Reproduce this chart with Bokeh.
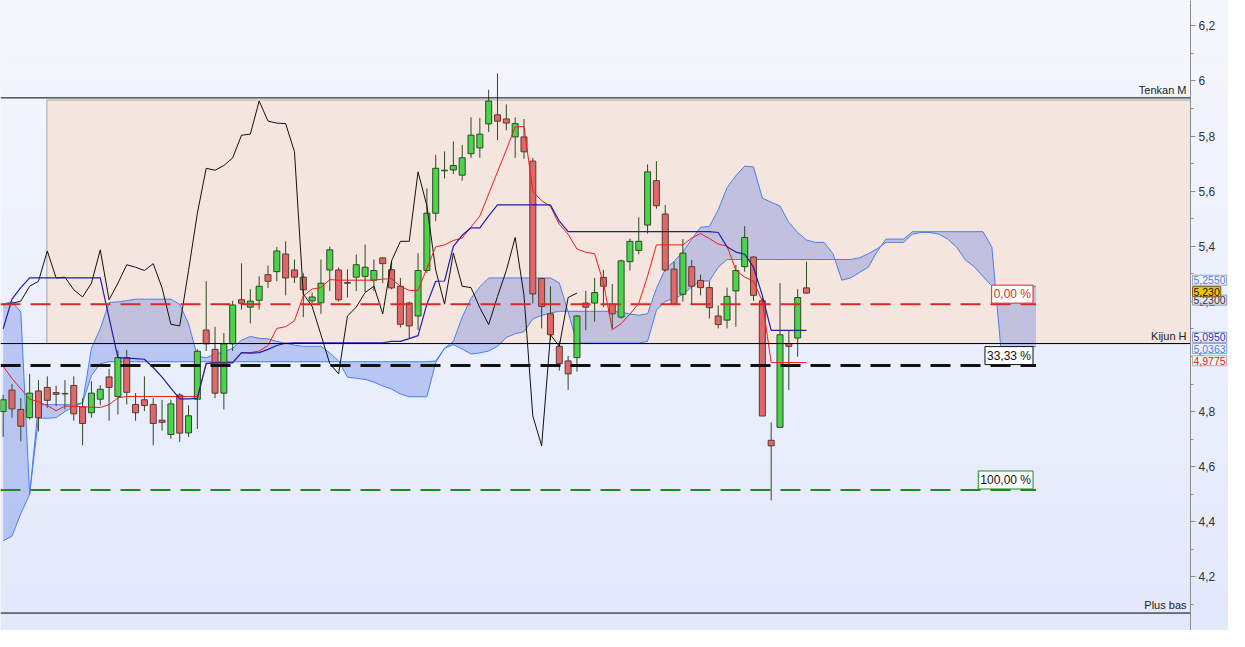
import numpy as np
from bokeh.plotting import figure
from bokeh.models import (BoxAnnotation, Label, FixedTicker, LinearAxis,
                          CustomJSTickFormatter, Range1d)
from bokeh.embed import file_html
from bokeh.resources import INLINE

# ---------------- data ----------------
opens = [4.800, 4.878, 4.808, 4.778, 4.875, 4.888, 4.869, 4.866, 4.895, 4.817,
         4.796, 4.845, 4.926, 4.855, 4.996, 4.826, 4.843, 4.826, 4.769, 4.717,
         4.860, 4.723, 4.845, 5.096, 5.026, 4.867, 5.046, 5.206, 5.179, 5.204,
         5.297, 5.308, 5.372, 5.314, 5.288, 5.202, 5.195, 5.314, 5.314, 5.268,
         5.288, 5.291, 5.277, 5.358, 5.315, 5.255, 5.194, 5.147, 5.312, 5.520,
         5.674, 5.677, 5.658, 5.736, 5.757, 5.844, 5.877, 5.862, 5.797, 5.797,
         5.709, 5.283, 5.155, 5.037, 4.984, 4.996, 5.194, 5.194, 5.287, 5.190,
         5.143, 5.344, 5.385, 5.477, 5.638, 5.517, 5.317, 5.226, 5.326, 5.276,
         5.250, 5.147, 5.132, 5.238, 5.326, 5.361, 5.202, 4.696, 4.743, 5.047,
         5.067, 5.249]
highs = [4.861, 4.900, 4.849, 4.937, 4.914, 4.928, 4.894, 4.914, 4.928, 4.849,
         4.910, 4.896, 4.955, 5.022, 5.024, 4.867, 4.928, 4.849, 4.843, 4.843,
         4.867, 4.823, 5.026, 5.273, 5.108, 5.085, 5.202, 5.338, 5.244, 5.291,
         5.330, 5.397, 5.418, 5.352, 5.302, 5.232, 5.352, 5.399, 5.323, 5.316,
         5.370, 5.406, 5.352, 5.360, 5.347, 5.285, 5.199, 5.375, 5.610, 5.732,
         5.744, 5.780, 5.768, 5.868, 5.866, 5.968, 6.027, 5.915, 5.868, 5.862,
         5.721, 5.285, 5.255, 5.055, 5.002, 5.150, 5.238, 5.285, 5.314, 5.263,
         5.352, 5.428, 5.505, 5.697, 5.709, 5.550, 5.344, 5.426, 5.350, 5.297,
         5.273, 5.185, 5.250, 5.332, 5.473, 5.364, 5.214, 4.761, 5.267, 5.096,
         5.244, 5.344]
lows = [4.708, 4.778, 4.692, 4.772, 4.728, 4.814, 4.820, 4.808, 4.767, 4.678,
        4.778, 4.823, 4.767, 4.790, 4.826, 4.767, 4.802, 4.678, 4.731, 4.702,
        4.690, 4.708, 4.737, 5.020, 4.849, 4.808, 5.020, 5.170, 5.120, 5.170,
        5.249, 5.273, 5.222, 5.267, 5.143, 5.191, 5.155, 5.238, 5.199, 5.214,
        5.238, 5.234, 5.238, 5.267, 5.244, 5.105, 5.067, 5.096, 5.303, 5.491,
        5.646, 5.662, 5.638, 5.721, 5.721, 5.815, 5.785, 5.821, 5.721, 5.718,
        5.193, 5.102, 5.060, 4.949, 4.879, 4.945, 5.096, 5.126, 5.179, 5.102,
        5.138, 5.312, 5.371, 5.446, 5.536, 5.308, 5.190, 5.199, 5.190, 5.222,
        5.138, 5.102, 5.102, 5.108, 5.308, 5.202, 4.784, 4.478, 4.743, 4.878,
        4.999, 5.228]
closes = [4.843, 4.810, 4.747, 4.867, 4.778, 4.841, 4.863, 4.864, 4.792, 4.757,
          4.867, 4.881, 4.888, 4.996, 4.870, 4.796, 4.822, 4.757, 4.761, 4.828,
          4.722, 4.785, 5.019, 5.046, 4.867, 5.046, 5.187, 5.193, 5.201, 5.255,
          5.273, 5.383, 5.285, 5.288, 5.242, 5.216, 5.266, 5.387, 5.206, 5.266,
          5.333, 5.324, 5.312, 5.337, 5.249, 5.117, 5.111, 5.312, 5.520, 5.683,
          5.676, 5.693, 5.721, 5.803, 5.807, 5.927, 5.854, 5.847, 5.845, 5.743,
          5.227, 5.182, 5.079, 4.974, 4.937, 5.147, 5.179, 5.232, 5.255, 5.155,
          5.347, 5.418, 5.418, 5.670, 5.547, 5.314, 5.190, 5.375, 5.255, 5.250,
          5.177, 5.116, 5.218, 5.312, 5.432, 5.222, 4.784, 4.676, 5.079, 5.037,
          5.214, 5.230]

tenkan = [4.965, 4.920, 4.883, 4.845, 4.836, 4.822, 4.803, 4.820, 4.819, 4.818,
          4.816, 4.815, 4.825, 4.850, 4.855, 4.855, 4.855, 4.855, 4.855, 4.855,
          4.855, 4.855, 4.855, 4.973, 4.979, 4.979, 4.979, 5.014, 5.014, 5.020,
          5.040, 5.102, 5.108, 5.130, 5.220, 5.245, 5.250, 5.279, 5.277, 5.277,
          5.277, 5.277, 5.277, 5.281, 5.282, 5.255, 5.240, 5.240, 5.320, 5.398,
          5.405, 5.421, 5.430, 5.470, 5.510, 5.590, 5.670, 5.750, 5.833, 5.835,
          5.600, 5.565, 5.545, 5.479, 5.444, 5.390, 5.378, 5.373, 5.267, 5.097,
          5.119, 5.154, 5.193, 5.292, 5.405, 5.405, 5.405, 5.405, 5.430, 5.446,
          5.428, 5.408, 5.401, 5.313, 5.288, 5.274, 5.200, 4.978, 4.978, 4.978,
          4.978, 4.978]
kijun = [5.100, 5.208, 5.250, 5.285, 5.285, 5.285, 5.285, 5.285, 5.285, 5.285,
         5.285, 5.285, 5.140, 4.996, 4.994, 4.992, 4.990, 4.960, 4.925, 4.885,
         4.846, 4.846, 4.848, 4.975, 4.977, 4.977, 4.977, 5.014, 5.012, 5.014,
         5.026, 5.040, 5.048, 5.050, 5.050, 5.050, 5.050, 5.050, 5.050, 5.050,
         5.050, 5.050, 5.050, 5.050, 5.055, 5.055, 5.065, 5.076, 5.190, 5.273,
         5.274, 5.400, 5.440, 5.467, 5.467, 5.510, 5.550, 5.550, 5.550, 5.550,
         5.550, 5.550, 5.550, 5.491, 5.453, 5.453, 5.453, 5.453, 5.453, 5.453,
         5.453, 5.453, 5.453, 5.453, 5.453, 5.453, 5.453, 5.453, 5.453, 5.453,
         5.453, 5.450, 5.398, 5.379, 5.371, 5.324, 5.221, 5.095, 5.095, 5.095,
         5.095, 5.095]
senkou_a = [5.190, 5.200, 5.161, 4.500, 4.825, 4.825, 4.825, 4.825, 4.825, 4.832,
            5.030, 5.101, 5.196, 5.198, 5.203, 5.208, 5.208, 5.208, 5.208, 5.208,
            5.189, 5.119, 5.002, 4.995, 5.009, 5.016, 5.030, 5.059, 5.073, 5.066,
            5.064, 5.055, 5.048, 5.041, 5.037, 5.037, 5.037, 5.013, 4.984, 4.925,
            4.921, 4.917, 4.907, 4.893, 4.882, 4.864, 4.854, 4.854, 4.854, 4.978,
            5.030, 5.055, 5.143, 5.211, 5.253, 5.285, 5.285, 5.285, 5.285, 5.285,
            5.285, 5.285, 5.285, 5.267, 5.161, 5.049, 5.049, 5.049, 5.049, 5.049,
            5.049, 5.049, 5.049, 5.055, 5.168, 5.200, 5.211, 5.225, 5.253, 5.274,
            5.274, 5.324, 5.352, 5.352, 5.352, 5.352, 5.352, 5.352, 5.352, 5.352,
            5.352, 5.352, 5.352, 5.352, 5.352, 5.352, 5.352, 5.358, 5.373, 5.391,
            5.414, 5.414, 5.414, 5.444, 5.450, 5.450, 5.444, 5.426, 5.397, 5.350,
            5.326, 5.290, 5.256, 5.255, 5.255, 5.255, 5.255, 5.255]
senkou_b = [4.331, 4.348, 4.430, 4.500, 4.776, 4.776, 4.778, 4.800, 4.818, 4.832,
            4.931, 4.974, 4.981, 4.981, 4.981, 4.981, 4.981, 4.981, 4.981, 4.981,
            4.981, 4.981, 4.981, 4.981, 4.981, 4.981, 4.981, 4.981, 4.981, 4.981,
            4.981, 4.981, 4.981, 4.981, 4.981, 4.981, 4.981, 4.981, 4.981, 4.981,
            4.981, 4.981, 4.981, 4.981, 4.981, 4.981, 4.981, 4.981, 4.981, 4.984,
            5.030, 5.043, 5.027, 5.009, 5.013, 5.020, 5.037, 5.069, 5.083, 5.090,
            5.136, 5.149, 5.158, 5.164, 5.164, 5.164, 5.164, 5.164, 5.164, 5.164,
            5.161, 5.154, 5.150, 5.155, 5.247, 5.317, 5.345, 5.380, 5.426, 5.469,
            5.472, 5.532, 5.613, 5.656, 5.691, 5.688, 5.575, 5.560, 5.546, 5.487,
            5.450, 5.423, 5.414, 5.414, 5.373, 5.277, 5.285, 5.305, 5.324, 5.381,
            5.426, 5.426, 5.426, 5.453, 5.453, 5.453, 5.453, 5.453, 5.453, 5.453,
            5.453, 5.453, 5.397, 5.036, 5.036, 5.036, 5.036, 5.036]
displacement = 26

# horizontal reference levels
tenkan_m_level = 5.9385
zone_top = 5.931
kijun_h_level = 5.047
plus_bas_level = 4.069
zone_left = 4.95
level_names = ["Tenkan M", "Kijun H", "Plus bas"]
level_values = [tenkan_m_level, kijun_h_level, plus_bas_level]

fibo_levels = [5.190, 4.967, 4.5156]
fibo_texts = ["0,00 %", "33,33 %", "100,00 %"]
fibo_line_colors = ["#d42a2a", "#111111", "#1e8a1e"]
fibo_text_colors = ["#d42a2a", "#111111", "#111111"]
fibo_widths = [2, 3, 2]

# price tags on the right axis
tag_values = [5.2300, 5.2550, 5.2300, 5.0950, 5.0363, 4.9775]
tag_texts = ["5,2300", "5,2550", "5,230", "5,0950", "5,0363", "4,9775"]
tag_text_colors = ["#333344", "#5a7fe0", "#111111", "#1f2fbf", "#4f7fe6", "#e02020"]
tag_fills = ["#dde4f2", "#eef2fb", "#f5c400", "#f4f6fc", "#eef2fb", "#f4f6fc"]
tag_borders = ["#8d9bb8", "#9aa9cc", "#7a6420", "#8d9bb8", "#9aa9cc", "#c9a8a8"]
tag_offsets = [-7, 6, 1.5, -7, -2, 2]

y_major_ticks = [4.0, 4.2, 4.4, 4.6, 4.8, 5.0, 5.2, 5.4, 5.6, 5.8, 6.0, 6.2]
y_minor_ticks = [4.1, 4.3, 4.5, 4.7, 4.9, 5.1, 5.3, 5.5, 5.7, 5.9, 6.1, 6.3]

# ---------------- figure ----------------
W, H = 1228, 630
X0 = -0.30
AXIS_X = 134.5           # price axis position (bar units)
PX_PER_BAR = 1190 / (AXIS_X - X0)
X1 = X0 + W / PX_PER_BAR
Y0, Y1 = 4.0057, 6.2919

p = figure(width=W, height=H, x_range=Range1d(X0, X1), y_range=Range1d(Y0, Y1),
           output_backend="svg", toolbar_location=None,
           y_axis_location=None, x_axis_location=None,
           min_border_left=0, min_border_top=0, min_border_bottom=0,
           min_border_right=0)
p.outline_line_color = None
p.grid.visible = False
p.background_fill_color = "#edf1fc"
p.border_fill_color = "#f4f7fd"

# soft vertical gradient background
top_c = np.array([246, 248, 254])
bot_c = np.array([226, 233, 251])
nb = 30
edges = np.linspace(Y0, Y1, nb + 1)
for k in range(nb):
    t = (k + 0.5) / nb
    c = (bot_c * (1 - t) + top_c * t).astype(int)
    p.add_layout(BoxAnnotation(bottom=edges[k], top=edges[k + 1],
                               fill_color="#%02x%02x%02x" % tuple(c), fill_alpha=1,
                               line_color=None, level="underlay"))

# peach zone
p.add_layout(BoxAnnotation(left=zone_left, right=AXIS_X, bottom=kijun_h_level,
                           top=zone_top, fill_color="#f5e5df", fill_alpha=1,
                           line_color="black", line_width=1, level="underlay"))

# ---------------- Ichimoku cloud ----------------
idx = np.arange(len(closes))
cidx = np.arange(len(senkou_a))
p.varea(x=cidx, y1=senkou_a, y2=senkou_b, fill_color="#4a6ae0", fill_alpha=0.3)
p.line(cidx, senkou_a, line_color="#4d7ee8", line_width=1)
p.line(cidx, senkou_b, line_color="#4d7ee8", line_width=1)

# ---------------- candles ----------------
o = np.array(opens); c = np.array(closes)
h = np.array(highs); l = np.array(lows)
up = c >= o
dn = ~up
p.segment(idx, h, idx, l, line_color="#2c4a22", line_width=1)
p.vbar(x=idx[up], width=0.68, bottom=o[up], top=c[up],
       fill_color="#4cd34c", line_color="#2c4a24", line_width=1)
p.vbar(x=idx[dn], width=0.68, bottom=c[dn], top=o[dn],
       fill_color="#e0686a", line_color="#5a3a2c", line_width=1)

# ---------------- lines ----------------
chik_x = idx[:len(closes) - displacement]
chik_y = c[displacement:]
p.line(chik_x, chik_y, line_color="#111111", line_width=1)
p.line(idx, tenkan, line_color="#f01c1c", line_width=1)
p.line(idx, kijun, line_color="#1f1fa8", line_width=1.2)

# ---------------- fibonacci retracement ----------------
fibo_end = len(closes) - 1 + displacement
for lvl, col, wd in zip(fibo_levels, fibo_line_colors, fibo_widths):
    p.line([X0, fibo_end], [lvl, lvl], line_color=col, line_width=wd,
           line_dash="20 10")
for lvl, txt, bcol, tcol in zip(fibo_levels, fibo_texts, fibo_line_colors,
                                fibo_text_colors):
    p.add_layout(Label(x=fibo_end, y=lvl, text=txt, text_align="right",
                       text_baseline="bottom", x_offset=-3, y_offset=1,
                       text_font="Liberation Sans", text_font_size="12px",
                       text_color=tcol, background_fill_color="white",
                       border_line_color=bcol, border_line_width=1, padding=2))

# ---------------- horizontal levels ----------------
for lv in level_values:
    p.line([X0, AXIS_X], [lv, lv], line_color="black", line_width=1)
for name, lv in zip(level_names, level_values):
    p.add_layout(Label(x=AXIS_X, y=lv, text=name, text_align="right",
                       text_baseline="bottom", x_offset=-4, y_offset=2,
                       text_font="Liberation Sans", text_font_size="11px",
                       text_color="#222222"))

# ---------------- price axis ----------------
ax = LinearAxis(fixed_location=AXIS_X)
ax.ticker = FixedTicker(ticks=y_major_ticks, minor_ticks=y_minor_ticks)
ax.formatter = CustomJSTickFormatter(code="""
var s = tick.toFixed(1);
if (s.slice(-2) == '.0') { s = s.slice(0, -2); }
return s.replace('.', ',');
""")
ax.axis_line_color = "#8c8c8c"
ax.major_tick_line_color = "#8c8c8c"
ax.minor_tick_line_color = "#8c8c8c"
ax.major_tick_in = 0
ax.major_tick_out = 5
ax.minor_tick_in = 0
ax.minor_tick_out = 3
ax.major_label_standoff = 3
ax.major_label_text_font = "Liberation Sans"
ax.major_label_text_font_size = "12px"
ax.major_label_text_color = "#333333"
p.add_layout(ax, "right")

# price tags
for v, txt, tc, fc, bc, off in zip(tag_values, tag_texts, tag_text_colors,
                                   tag_fills, tag_borders, tag_offsets):
    p.add_layout(Label(x=AXIS_X, y=v, text=txt, text_align="left",
                       text_baseline="middle", x_offset=2, y_offset=off,
                       text_font="Liberation Sans", text_font_size="10.5px",
                       text_color=tc, background_fill_color=fc,
                       border_line_color=bc, border_line_width=1, padding=1))

open("out.html", "w").write(file_html(p, INLINE))
